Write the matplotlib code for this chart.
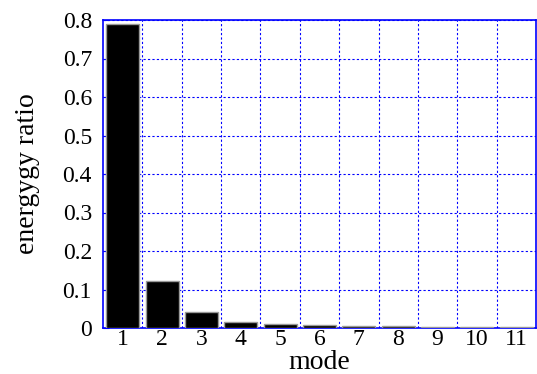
import matplotlib
matplotlib.use("Agg")
import matplotlib.pyplot as plt
import numpy as np

# mode numbers and their energy ratio
modes = [1, 2, 3, 4, 5, 6, 7, 8, 9, 10, 11]
ratio = [0.79, 0.121, 0.042, 0.0155, 0.0105, 0.008, 0.0045, 0.004, 0.003, 0.0018, 0.0015]
yticks = [0, 0.1, 0.2, 0.3, 0.4, 0.5, 0.6, 0.7, 0.8]
ytick_labels = ["0", "0.1", "0.2", "0.3", "0.4", "0.5", "0.6", "0.7", "0.8"]

plt.rcParams['font.family'] = ['Liberation Serif', 'DejaVu Serif']

fig = plt.figure(figsize=(5.37, 3.74), dpi=100)
ax = fig.add_axes([103 / 537, 46 / 374, 433 / 537, 308 / 374])

ax.bar(modes, ratio, width=0.84, color='black', edgecolor='#999999', linewidth=1.0, zorder=3)

ax.set_xlim(0.5, 11.5)
ax.set_ylim(0, 0.8)

# grid lines at the category boundaries and at each y tick
ax.set_xticks(modes)
ax.set_xticks(np.arange(1.5, 11.5, 1), minor=True)
ax.set_yticks(yticks)
ax.set_yticklabels(ytick_labels)
ax.grid(True, which='minor', axis='x', color='blue', linestyle=(0, (2, 2)), linewidth=0.8, zorder=0)
ax.grid(True, which='major', axis='y', color='blue', linestyle=(0, (2, 2)), linewidth=0.8, zorder=0)

for s in ax.spines.values():
    s.set_color('blue')
    s.set_linewidth(1.2)

ax.tick_params(axis='x', which='both', length=0, labelsize=17, pad=1)
ax.tick_params(axis='y', direction='in', length=4, color='blue', labelsize=17, pad=8)

ax.set_xlabel('mode', fontsize=20, labelpad=0)
ax.set_ylabel('energygy ratio', fontsize=20, labelpad=16)

fig.savefig('out.png', dpi=100)
